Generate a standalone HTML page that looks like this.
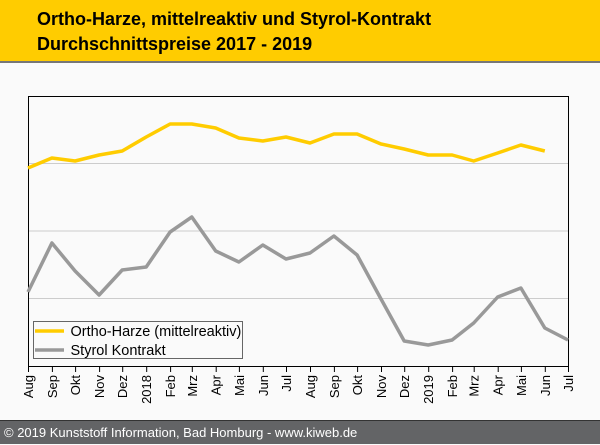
<!DOCTYPE html>
<html><head><meta charset="utf-8"><style>
body{margin:0;width:600px;height:444px;background:#fafafa;font-family:"Liberation Sans",sans-serif;overflow:hidden;position:relative}
#hd{position:absolute;left:0;top:0;width:600px;height:61px;background:#ffcc00;border-bottom:2px solid #777}
#hd div{position:absolute;left:37px;font-weight:bold;font-size:18px;color:#000}
#ft{position:absolute;left:0;top:420px;width:600px;height:24px;background:#636466;color:#fff;font-size:13px;line-height:24px;padding-left:4px;box-sizing:border-box;border-top:1px solid #333}
</style></head><body>
<div id="hd"><div style="top:9px">Ortho-Harze, mittelreaktiv und Styrol-Kontrakt</div><div style="top:34px">Durchschnittspreise 2017 - 2019</div></div>
<svg width="600" height="444" style="position:absolute;left:0;top:0">
<g stroke="#ccc" stroke-width="1"><line x1="28" x2="568" y1="163.5" y2="163.5"/><line x1="28" x2="568" y1="231" y2="231"/><line x1="28" x2="568" y1="298.5" y2="298.5"/></g>
<rect x="28.5" y="96.5" width="540" height="270" fill="none" stroke="#000"/>
<polyline fill="none" stroke="#ffcc00" stroke-width="3.5" stroke-linejoin="round" points="28,168 51.9,158 75.1,161 99.1,155 122.2,151 146.2,137 170.1,124 191.8,124 215.7,128 238.9,138 262.8,141 286,137 310,143 333.9,134 357.1,134 381,144 404.2,149 428.2,155 452.1,155 473.7,161 497.7,153 520.9,145 544.8,151"/>
<polyline fill="none" stroke="#999" stroke-width="3.5" stroke-linejoin="round" points="28,292 51.9,243 75.1,271 99.1,295 122.2,270 146.2,267 170.1,232 191.8,217 215.7,251 238.9,262 262.8,245 286,259 310,253 333.9,236 357.1,255 381,299 404.2,341 428.2,345 452.1,340 473.7,323 497.7,297 520.9,288 544.8,328 568,340"/>
<g stroke="#000">
<line x1="28.5" x2="28.5" y1="366" y2="372"/><line x1="52.4" x2="52.4" y1="366" y2="372"/><line x1="75.6" x2="75.6" y1="366" y2="372"/><line x1="99.6" x2="99.6" y1="366" y2="372"/><line x1="122.7" x2="122.7" y1="366" y2="372"/><line x1="146.7" x2="146.7" y1="366" y2="372"/><line x1="170.6" x2="170.6" y1="366" y2="372"/><line x1="192.3" x2="192.3" y1="366" y2="372"/><line x1="216.2" x2="216.2" y1="366" y2="372"/><line x1="239.4" x2="239.4" y1="366" y2="372"/><line x1="263.3" x2="263.3" y1="366" y2="372"/><line x1="286.5" x2="286.5" y1="366" y2="372"/><line x1="310.5" x2="310.5" y1="366" y2="372"/><line x1="334.4" x2="334.4" y1="366" y2="372"/><line x1="357.6" x2="357.6" y1="366" y2="372"/><line x1="381.5" x2="381.5" y1="366" y2="372"/><line x1="404.7" x2="404.7" y1="366" y2="372"/><line x1="428.7" x2="428.7" y1="366" y2="372"/><line x1="452.6" x2="452.6" y1="366" y2="372"/><line x1="474.2" x2="474.2" y1="366" y2="372"/><line x1="498.2" x2="498.2" y1="366" y2="372"/><line x1="521.4" x2="521.4" y1="366" y2="372"/><line x1="545.3" x2="545.3" y1="366" y2="372"/><line x1="568.5" x2="568.5" y1="366" y2="372"/>
</g>
<g font-size="13" fill="#000" text-anchor="end" font-family="Liberation Sans,sans-serif">
<text transform="translate(33,375) rotate(-90)">Aug</text><text transform="translate(56.9,375) rotate(-90)">Sep</text><text transform="translate(80.1,375) rotate(-90)">Okt</text><text transform="translate(104.1,375) rotate(-90)">Nov</text><text transform="translate(127.2,375) rotate(-90)">Dez</text><text transform="translate(151.2,375) rotate(-90)">2018</text><text transform="translate(175.1,375) rotate(-90)">Feb</text><text transform="translate(196.8,375) rotate(-90)">Mrz</text><text transform="translate(220.7,375) rotate(-90)">Apr</text><text transform="translate(243.9,375) rotate(-90)">Mai</text><text transform="translate(267.8,375) rotate(-90)">Jun</text><text transform="translate(291,375) rotate(-90)">Jul</text><text transform="translate(315,375) rotate(-90)">Aug</text><text transform="translate(338.9,375) rotate(-90)">Sep</text><text transform="translate(362.1,375) rotate(-90)">Okt</text><text transform="translate(386,375) rotate(-90)">Nov</text><text transform="translate(409.2,375) rotate(-90)">Dez</text><text transform="translate(433.2,375) rotate(-90)">2019</text><text transform="translate(457.1,375) rotate(-90)">Feb</text><text transform="translate(478.7,375) rotate(-90)">Mrz</text><text transform="translate(502.7,375) rotate(-90)">Apr</text><text transform="translate(525.9,375) rotate(-90)">Mai</text><text transform="translate(549.8,375) rotate(-90)">Jun</text><text transform="translate(573,375) rotate(-90)">Jul</text>
</g>
<rect x="33.5" y="321.5" width="209" height="37" fill="#fafafa" stroke="#666"/>
<line x1="35" x2="64" y1="331" y2="331" stroke="#ffcc00" stroke-width="3.5"/>
<line x1="35" x2="64" y1="350" y2="350" stroke="#999" stroke-width="3.5"/>
<g font-size="14.5" fill="#000" font-family="Liberation Sans,sans-serif"><text x="70.5" y="336">Ortho-Harze (mittelreaktiv)</text><text x="70.5" y="355">Styrol Kontrakt</text></g>
</svg>
<div id="ft">© 2019 Kunststoff Information, Bad Homburg - www.kiweb.de</div>
</body></html>
